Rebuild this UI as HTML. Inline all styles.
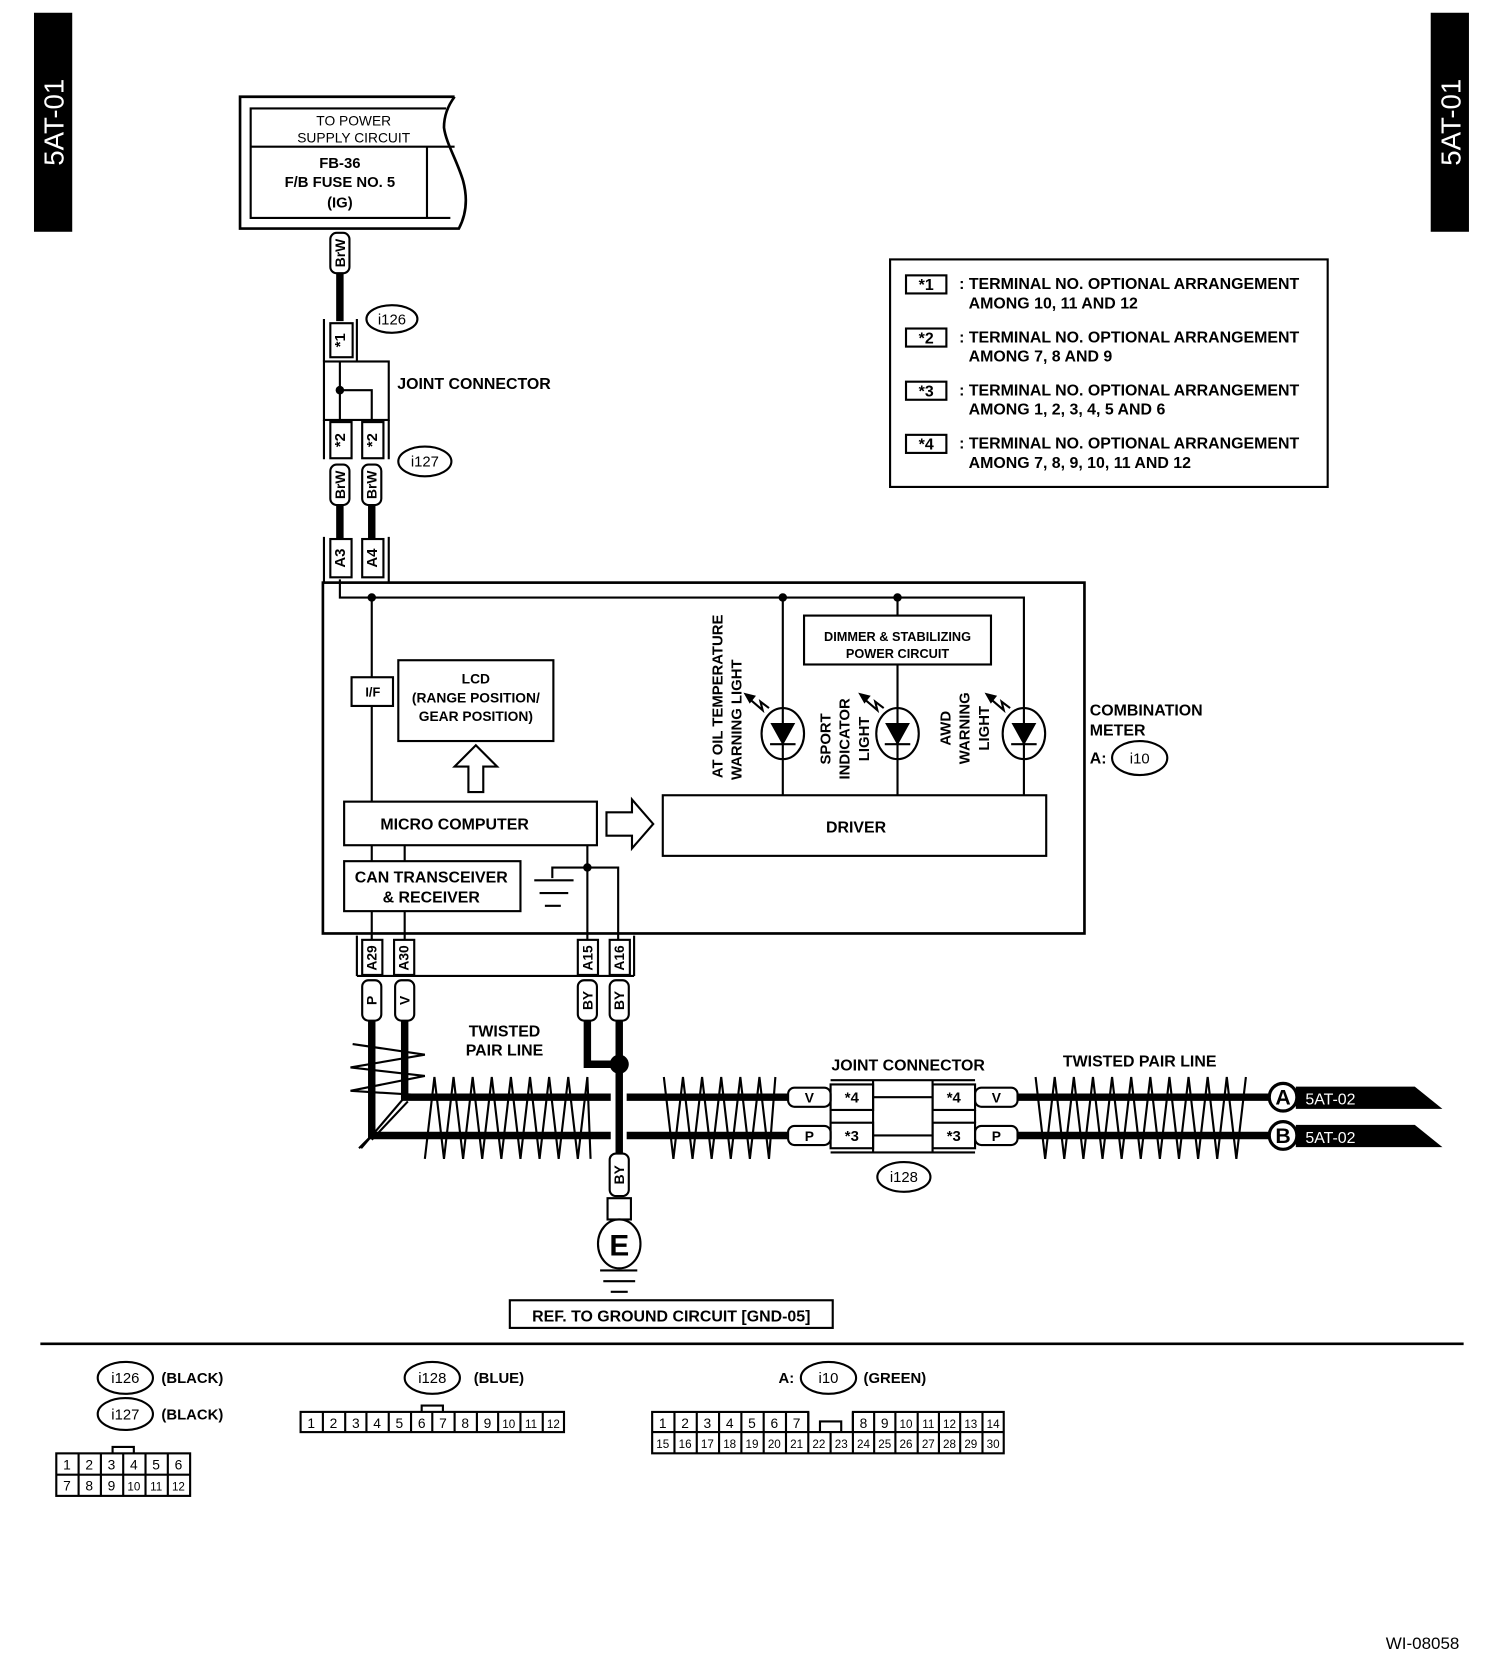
<!DOCTYPE html>
<html><head><meta charset="utf-8"><style>
html,body{margin:0;padding:0;background:#fff;}
svg{display:block;}
text{font-family:"Liberation Sans",Arial,sans-serif;font-weight:bold;fill:#000;}
</style></head><body>
<svg width="1504" height="1666" viewBox="0 0 1416 1567" preserveAspectRatio="none" xmlns="http://www.w3.org/2000/svg">
<rect x="0" y="0" width="1416" height="1567" fill="#fff"/>
<!-- side tabs -->
<rect x="32" y="12" width="36" height="206" fill="#000"/>
<text transform="translate(51,115) rotate(-90)" text-anchor="middle" dominant-baseline="central" style="fill:#fff;font-size:26px;font-weight:normal">5AT-01</text>
<rect x="1347" y="12" width="36" height="206" fill="#000"/>
<text transform="translate(1366,115) rotate(-90)" text-anchor="middle" dominant-baseline="central" style="fill:#fff;font-size:26px;font-weight:normal">5AT-01</text>

<g fill="none" stroke="#000" stroke-width="2">
<path d="M428,91 L226,91 L226,215 L432,215 C440,200 440,185 436,170 C430,150 420,135 418,120 C418,105 425,95 428,91" stroke-width="2.5"/>
<path d="M420,102 L236,102 L236,205 L424,205 M236,138 L428,138 M402,138 L402,205"/>
</g>
<text x="333" y="118" text-anchor="middle" style="font-size:13px;font-weight:normal">TO POWER</text>
<text x="333" y="134" text-anchor="middle" style="font-size:13px;font-weight:normal">SUPPLY CIRCUIT</text>
<text x="320" y="158" text-anchor="middle" style="font-size:14px">FB-36</text>
<text x="320" y="176" text-anchor="middle" style="font-size:14px">F/B FUSE NO. 5</text>
<text x="320" y="195" text-anchor="middle" style="font-size:14px">(IG)</text>

<g stroke="#000" stroke-width="7" fill="none">
<path d="M320,256 V302"/>
<path d="M320,475 V506 M350,475 V506"/>
<path d="M350,960 V1068 H575 M590,1068 H742"/>
<path d="M381,960 V1032 H575 M590,1032 H742"/>
<path d="M553,960 V1001 H583 M583,960 V1086"/>
<path d="M958,1032 H1196 M958,1068 H1196"/>
</g>
<circle cx="583" cy="1001" r="9" fill="#000"/>

<g fill="#fff" stroke="#000" stroke-width="2">
<rect x="311" y="219" width="18" height="38" rx="6"/>
<rect x="311" y="437" width="18" height="38" rx="6"/>
<rect x="341" y="437" width="18" height="38" rx="6"/>
<rect x="341" y="922" width="18" height="38" rx="6"/>
<rect x="372" y="922" width="18" height="38" rx="6"/>
<rect x="544" y="922" width="18" height="38" rx="6"/>
<rect x="574" y="922" width="18" height="38" rx="6"/>
<rect x="574" y="1085" width="18" height="40" rx="6"/>
<rect x="572" y="1127" width="22" height="20"/>
<rect x="742" y="1023" width="40" height="18" rx="6"/>
<rect x="742" y="1059" width="40" height="18" rx="6"/>
<rect x="918" y="1023" width="40" height="18" rx="6"/>
<rect x="918" y="1059" width="40" height="18" rx="6"/>
</g>
<g style="font-size:13px">
<text transform="translate(320,238) rotate(-90)" text-anchor="middle" dominant-baseline="central">BrW</text>
<text transform="translate(320,456) rotate(-90)" text-anchor="middle" dominant-baseline="central">BrW</text>
<text transform="translate(350,456) rotate(-90)" text-anchor="middle" dominant-baseline="central">BrW</text>
<text transform="translate(350,941) rotate(-90)" text-anchor="middle" dominant-baseline="central">P</text>
<text transform="translate(381,941) rotate(-90)" text-anchor="middle" dominant-baseline="central">V</text>
<text transform="translate(553,941) rotate(-90)" text-anchor="middle" dominant-baseline="central">BY</text>
<text transform="translate(583,941) rotate(-90)" text-anchor="middle" dominant-baseline="central">BY</text>
<text transform="translate(583,1105) rotate(-90)" text-anchor="middle" dominant-baseline="central">BY</text>
<text x="762" y="1037" text-anchor="middle">V</text>
<text x="762" y="1073" text-anchor="middle">P</text>
<text x="938" y="1037" text-anchor="middle">V</text>
<text x="938" y="1073" text-anchor="middle">P</text>
</g>

<g fill="none" stroke="#000" stroke-width="2">
<path d="M305,300 V340 M336,300 V340"/>
<rect x="311" y="304" width="21" height="32"/>
<ellipse cx="369" cy="300" rx="24" ry="13"/>
<rect x="305" y="340" width="61" height="55"/>
<path d="M320,340 V395 M320,367 H350 V395"/>
<path d="M305,395 V432 M366,395 V432"/>
<rect x="311" y="397" width="20" height="34"/>
<rect x="341" y="397" width="20" height="34"/>
<ellipse cx="400" cy="434" rx="25" ry="14"/>
<path d="M305,505 V548 M366,505 V548"/>
<rect x="311" y="507" width="20" height="36"/>
<rect x="341" y="507" width="20" height="36"/>
<rect x="304" y="548" width="717" height="330" stroke-width="2.5"/>
<path d="M320,545 V562 H964 V748 M350,562 V637 M350,664 V754 M737,562 V748 M845,562 V579 M845,625 V748"/>
<rect x="331" y="637" width="39" height="27"/>
<rect x="375" y="621" width="146" height="76"/>
<path d="M441,745 V721 H428 L448,701 L468,721 H455 V745 Z"/>
<rect x="324" y="754" width="238" height="41"/>
<path d="M571,764 H595 V752 L615,775 L595,798 V786 H571 Z"/>
<rect x="624" y="748" width="361" height="57"/>
<rect x="757" y="579" width="176" height="46"/>
<rect x="324" y="810" width="166" height="47"/>
<path d="M350,795 V810 M381,795 V810 M350,857 V884 M381,857 V884 M553,795 V884 M520,826 V816 H582 V884"/>
<path d="M503,828 H540 M508,840 H535 M513,852 H528"/>
<ellipse cx="737" cy="690" rx="20" ry="24"/>
<ellipse cx="845" cy="690" rx="20" ry="24"/>
<ellipse cx="964" cy="690" rx="20" ry="24"/>
<path d="M336,880 V918 M597,880 V918 M336,918 H597"/>
<rect x="341" y="884" width="19" height="33"/>
<rect x="371" y="884" width="19" height="33"/>
<rect x="544" y="884" width="19" height="33"/>
<rect x="574" y="884" width="19" height="33"/>
<rect x="782" y="1020" width="40" height="24"/>
<rect x="782" y="1056" width="40" height="24"/>
<rect x="878" y="1020" width="40" height="24"/>
<rect x="878" y="1056" width="40" height="24"/>
<path d="M782,1016 H918 M782,1084 H918 M822,1016 V1084 M878,1016 V1084 M822,1032 H878 M822,1068 H878 M782,1044 V1056 M918,1044 V1056"/>
<ellipse cx="851" cy="1107" rx="25" ry="14"/>
<ellipse cx="583" cy="1170" rx="20" ry="23"/>
<path d="M565,1195 H600 M568,1205 H598 M575,1215 H591"/>
<rect x="480" y="1223" width="304" height="26"/>
<rect x="838" y="244" width="412" height="214"/>
<rect x="853" y="259" width="38" height="17"/>
<rect x="853" y="309" width="38" height="17"/>
<rect x="853" y="359" width="38" height="17"/>
<rect x="853" y="409" width="38" height="17"/>
<ellipse cx="1073" cy="713" rx="26" ry="16"/>
<polyline points="400,1090 409,1013 418,1090 427,1013 436,1090 445,1013 454,1090 463,1013 472,1090 481,1013 490,1090 499,1013 508,1090 517,1013 526,1090 535,1013 544,1090 553,1013 556,1090"/>
<polyline points="625,1013 634,1090 643,1013 652,1090 661,1013 670,1090 679,1013 688,1090 697,1013 706,1090 715,1013 724,1090 730,1013"/>
<polyline points="975,1013 984,1090 993,1013 1002,1090 1011,1013 1020,1090 1029,1013 1038,1090 1047,1013 1056,1090 1065,1013 1074,1090 1083,1013 1092,1090 1101,1013 1110,1090 1119,1013 1128,1090 1137,1013 1146,1090 1155,1013 1164,1090 1173,1013"/>
<polyline points="332,982 400,992 330,1004 400,1012 330,1026 395,1030"/>
<path d="M381,1032 L340,1080 M350,1068 L338,1080 M384,1036 L350,1072"/>
<circle cx="1208" cy="1032" r="13" stroke-width="3"/>
<circle cx="1208" cy="1068" r="13" stroke-width="3"/>
<path d="M38,1264 H1378" stroke-width="2.5"/>
</g>
<g fill="#000" stroke="#000" stroke-width="2">
<path d="M727,681 H747 L737,699 Z M725,700 H749"/>
<path d="M835,681 H855 L845,699 Z M833,700 H857"/>
<path d="M954,681 H974 L964,699 Z M952,700 H976"/>
<path d="M704,656 L718,668 L716,660 L724,666" fill="none"/>
<path d="M812,656 L826,668 L824,660 L832,666" fill="none"/>
<path d="M931,656 L945,668 L943,660 L951,666" fill="none"/>
<path d="M702,653 L710,655 L706,660 Z"/>
<path d="M810,653 L818,655 L814,660 Z"/>
<path d="M929,653 L937,655 L933,660 Z"/>
</g>
<circle cx="320" cy="367" r="4" fill="#000"/>
<circle cx="350" cy="562" r="4" fill="#000"/>
<circle cx="737" cy="562" r="4" fill="#000"/>
<circle cx="845" cy="562" r="4" fill="#000"/>
<circle cx="553" cy="816" r="4" fill="#000"/>
<polygon points="1220,1022 1332,1022 1358,1043 1220,1043" fill="#000"/>
<polygon points="1220,1058 1332,1058 1358,1079 1220,1079" fill="#000"/>
<text x="1208" y="1039" text-anchor="middle" style="font-size:20px">A</text>
<text x="1208" y="1075" text-anchor="middle" style="font-size:20px">B</text>
<text x="1229" y="1039" style="font-size:15px;fill:#fff;font-weight:normal">5AT-02</text>
<text x="1229" y="1075" style="font-size:15px;fill:#fff;font-weight:normal">5AT-02</text>

<g style="font-size:14px">
<text transform="translate(321,320) rotate(-90)" text-anchor="middle" dominant-baseline="central">*1</text>
<text transform="translate(321,414) rotate(-90)" text-anchor="middle" dominant-baseline="central">*2</text>
<text transform="translate(351,414) rotate(-90)" text-anchor="middle" dominant-baseline="central">*2</text>
<text transform="translate(321,525) rotate(-90)" text-anchor="middle" dominant-baseline="central">A3</text>
<text transform="translate(351,525) rotate(-90)" text-anchor="middle" dominant-baseline="central">A4</text>
<text transform="translate(350,901) rotate(-90)" text-anchor="middle" dominant-baseline="central" style="font-size:13px">A29</text>
<text transform="translate(380,901) rotate(-90)" text-anchor="middle" dominant-baseline="central" style="font-size:13px">A30</text>
<text transform="translate(553,901) rotate(-90)" text-anchor="middle" dominant-baseline="central" style="font-size:13px">A15</text>
<text transform="translate(583,901) rotate(-90)" text-anchor="middle" dominant-baseline="central" style="font-size:13px">A16</text>
<text x="369" y="305" text-anchor="middle" style="font-weight:normal">i126</text>
<text x="400" y="439" text-anchor="middle" style="font-weight:normal">i127</text>
<text x="851" y="1112" text-anchor="middle" style="font-weight:normal">i128</text>
<text x="1073" y="718" text-anchor="middle" style="font-weight:normal">i10</text>
<text x="374" y="366" style="font-size:15px">JOINT CONNECTOR</text>
<text x="351" y="655" text-anchor="middle" style="font-size:12px">I/F</text>
<text x="448" y="643" text-anchor="middle" style="font-size:13px">LCD</text>
<text x="448" y="661" text-anchor="middle" style="font-size:13px">(RANGE POSITION/</text>
<text x="448" y="678" text-anchor="middle" style="font-size:13px">GEAR POSITION)</text>
<text x="428" y="780" text-anchor="middle" style="font-size:15px">MICRO COMPUTER</text>
<text x="806" y="783" text-anchor="middle" style="font-size:15px">DRIVER</text>
<text x="406" y="830" text-anchor="middle" style="font-size:15px">CAN TRANSCEIVER</text>
<text x="406" y="849" text-anchor="middle" style="font-size:15px">&amp; RECEIVER</text>
<text x="845" y="603" text-anchor="middle" style="font-size:12px">DIMMER &amp; STABILIZING</text>
<text x="845" y="619" text-anchor="middle" style="font-size:12px">POWER CIRCUIT</text>
<text transform="translate(680,655) rotate(-90)" text-anchor="middle" style="font-size:14px">AT OIL TEMPERATURE</text>
<text transform="translate(698,677) rotate(-90)" text-anchor="middle" style="font-size:14px">WARNING LIGHT</text>
<text transform="translate(782,695) rotate(-90)" text-anchor="middle" style="font-size:14px">SPORT</text>
<text transform="translate(800,695) rotate(-90)" text-anchor="middle" style="font-size:14px">INDICATOR</text>
<text transform="translate(818,695) rotate(-90)" text-anchor="middle" style="font-size:14px">LIGHT</text>
<text transform="translate(895,685) rotate(-90)" text-anchor="middle" style="font-size:14px">AWD</text>
<text transform="translate(913,685) rotate(-90)" text-anchor="middle" style="font-size:14px">WARNING</text>
<text transform="translate(931,685) rotate(-90)" text-anchor="middle" style="font-size:14px">LIGHT</text>
<text x="1026" y="673" style="font-size:15px">COMBINATION</text>
<text x="1026" y="692" style="font-size:15px">METER</text>
<text x="1026" y="718" style="font-size:15px">A:</text>
<text x="475" y="975" text-anchor="middle" style="font-size:15px">TWISTED</text>
<text x="475" y="993" text-anchor="middle" style="font-size:15px">PAIR LINE</text>
<text x="855" y="1007" text-anchor="middle" style="font-size:15px">JOINT CONNECTOR</text>
<text x="1073" y="1003" text-anchor="middle" style="font-size:15px">TWISTED PAIR LINE</text>
<text x="802" y="1037" text-anchor="middle">*4</text>
<text x="802" y="1073" text-anchor="middle">*3</text>
<text x="898" y="1037" text-anchor="middle">*4</text>
<text x="898" y="1073" text-anchor="middle">*3</text>
<text x="583" y="1181" text-anchor="middle" style="font-size:28px">E</text>
<text x="632" y="1243" text-anchor="middle" style="font-size:15px">REF. TO GROUND CIRCUIT [GND-05]</text>
</g>
<g style="font-size:15px">
<text x="872" y="273" text-anchor="middle">*1</text>
<text x="872" y="323" text-anchor="middle">*2</text>
<text x="872" y="373" text-anchor="middle">*3</text>
<text x="872" y="423" text-anchor="middle">*4</text>
<text x="903" y="272">: TERMINAL NO. OPTIONAL ARRANGEMENT</text>
<text x="912" y="290">AMONG 10, 11 AND 12</text>
<text x="903" y="322">: TERMINAL NO. OPTIONAL ARRANGEMENT</text>
<text x="912" y="340">AMONG 7, 8 AND 9</text>
<text x="903" y="372">: TERMINAL NO. OPTIONAL ARRANGEMENT</text>
<text x="912" y="390">AMONG 1, 2, 3, 4, 5 AND 6</text>
<text x="903" y="422">: TERMINAL NO. OPTIONAL ARRANGEMENT</text>
<text x="912" y="440">AMONG 7, 8, 9, 10, 11 AND 12</text>
</g>

<g fill="none" stroke="#000" stroke-width="2">
<ellipse cx="118" cy="1296" rx="26" ry="15"/>
<ellipse cx="118" cy="1330" rx="26" ry="15"/>
<ellipse cx="407" cy="1296" rx="26" ry="15"/>
<ellipse cx="780" cy="1296" rx="26" ry="15"/>
<rect x="53" y="1367" width="126" height="40"/>
<path d="M53,1387 H179 M74,1367 V1407 M95,1367 V1407 M116,1367 V1407 M137,1367 V1407 M158,1367 V1407 M106,1367 V1361 H126 V1367"/>
<rect x="283" y="1328" width="248" height="19"/>
<path d="M304,1328 V1347 M325,1328 V1347 M345,1328 V1347 M366,1328 V1347 M387,1328 V1347 M407,1328 V1347 M428,1328 V1347 M449,1328 V1347 M469,1328 V1347 M490,1328 V1347 M511,1328 V1347 M397,1328 V1322 H417 V1328"/>
<path d="M614,1347 V1328 H761 V1347 M803,1347 V1328 H945 V1347 M614,1347 H945 V1367 H614 V1347"/>
<path d="M635,1328 V1367 M656,1328 V1367 M677,1328 V1367 M698,1328 V1367 M719,1328 V1367 M740,1328 V1367 M761,1328 V1367 M782,1347 V1367 M803,1328 V1367 M823,1328 V1367 M843,1328 V1367 M864,1328 V1367 M884,1328 V1367 M904,1328 V1367 M925,1328 V1367 M772,1347 V1337 H792 V1347"/>
</g>
<g style="font-size:14px">
<text x="118" y="1301" text-anchor="middle" style="font-weight:normal">i126</text>
<text x="118" y="1335" text-anchor="middle" style="font-weight:normal">i127</text>
<text x="407" y="1301" text-anchor="middle" style="font-weight:normal">i128</text>
<text x="780" y="1301" text-anchor="middle" style="font-weight:normal">i10</text>
<text x="152" y="1301">(BLACK)</text>
<text x="152" y="1335">(BLACK)</text>
<text x="446" y="1301">(BLUE)</text>
<text x="733" y="1301">A:</text>
<text x="813" y="1301">(GREEN)</text>
</g>
<g style="font-size:13px" text-anchor="middle">
<text x="63" y="1382" style="font-weight:normal">1</text><text x="84" y="1382" style="font-weight:normal">2</text><text x="105" y="1382" style="font-weight:normal">3</text><text x="126" y="1382" style="font-weight:normal">4</text><text x="147" y="1382" style="font-weight:normal">5</text><text x="168" y="1382" style="font-weight:normal">6</text>
<text x="63" y="1402" style="font-weight:normal">7</text><text x="84" y="1402" style="font-weight:normal">8</text><text x="105" y="1402" style="font-weight:normal">9</text><text x="126" y="1402" style="font-weight:normal;font-size:11px">10</text><text x="147" y="1402" style="font-weight:normal;font-size:11px">11</text><text x="168" y="1402" style="font-weight:normal;font-size:11px">12</text>
</g>
<g style="font-size:13px" text-anchor="middle">
<text x="293" y="1343" style="font-weight:normal">1</text><text x="314" y="1343" style="font-weight:normal">2</text><text x="335" y="1343" style="font-weight:normal">3</text><text x="355" y="1343" style="font-weight:normal">4</text><text x="376" y="1343" style="font-weight:normal">5</text><text x="397" y="1343" style="font-weight:normal">6</text><text x="417" y="1343" style="font-weight:normal">7</text><text x="438" y="1343" style="font-weight:normal">8</text><text x="459" y="1343" style="font-weight:normal">9</text><text x="479" y="1343" style="font-weight:normal;font-size:11px">10</text><text x="500" y="1343" style="font-weight:normal;font-size:11px">11</text><text x="521" y="1343" style="font-weight:normal;font-size:11px">12</text>
</g>
<g style="font-size:13px" text-anchor="middle">
<text x="624" y="1343" style="font-weight:normal">1</text><text x="645" y="1343" style="font-weight:normal">2</text><text x="666" y="1343" style="font-weight:normal">3</text><text x="687" y="1343" style="font-weight:normal">4</text><text x="708" y="1343" style="font-weight:normal">5</text><text x="729" y="1343" style="font-weight:normal">6</text><text x="750" y="1343" style="font-weight:normal">7</text>
<text x="813" y="1343" style="font-weight:normal">8</text><text x="833" y="1343" style="font-weight:normal">9</text><text x="853" y="1343" style="font-weight:normal;font-size:11px">10</text><text x="874" y="1343" style="font-weight:normal;font-size:11px">11</text><text x="894" y="1343" style="font-weight:normal;font-size:11px">12</text><text x="914" y="1343" style="font-weight:normal;font-size:11px">13</text><text x="935" y="1343" style="font-weight:normal;font-size:11px">14</text>
<g style="font-size:11px">
<text x="624" y="1362" style="font-weight:normal">15</text><text x="645" y="1362" style="font-weight:normal">16</text><text x="666" y="1362" style="font-weight:normal">17</text><text x="687" y="1362" style="font-weight:normal">18</text><text x="708" y="1362" style="font-weight:normal">19</text><text x="729" y="1362" style="font-weight:normal">20</text><text x="750" y="1362" style="font-weight:normal">21</text><text x="771" y="1362" style="font-weight:normal">22</text><text x="792" y="1362" style="font-weight:normal">23</text><text x="813" y="1362" style="font-weight:normal">24</text><text x="833" y="1362" style="font-weight:normal">25</text><text x="853" y="1362" style="font-weight:normal">26</text><text x="874" y="1362" style="font-weight:normal">27</text><text x="894" y="1362" style="font-weight:normal">28</text><text x="914" y="1362" style="font-weight:normal">29</text><text x="935" y="1362" style="font-weight:normal">30</text>
</g>
</g>
<text x="1374" y="1551" text-anchor="end" style="font-size:16px;font-weight:normal">WI-08058</text>
</svg>
</body></html>
